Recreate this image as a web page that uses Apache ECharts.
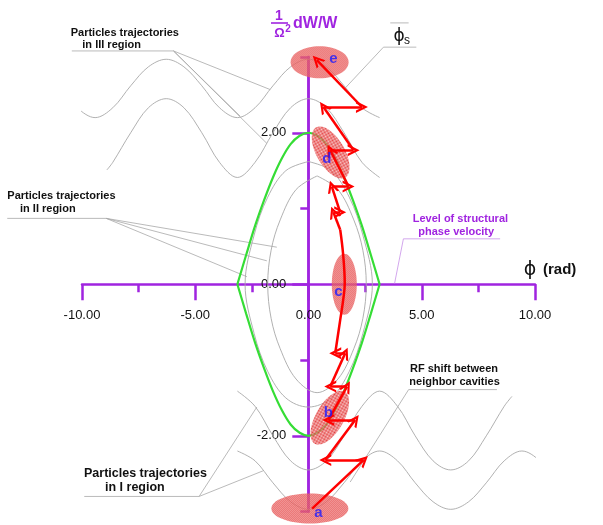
<!DOCTYPE html>
<html>
<head>
<meta charset="utf-8">
<script src="https://cdn.jsdelivr.net/npm/echarts@6/dist/echarts.min.js"></script>
<style>
  html, body { margin: 0; padding: 0; background: #ffffff; }
  #chart { width: 603px; height: 525px; }
</style>
</head>
<body>
<div id="chart"></div>
<script>
// ---- axis ticks ----
const xMajorTicks = [-10, -5, 0, 5, 10];
const yLabelTicks = [-2, 0, 2];
const yShortTicks = [-3, -1, 1, 3];

// ---- separatrix (phase, relative energy) ----
const sepPhase = [-3.14, -2.75, -2.36, -1.96, -1.57, -1.18, -0.79, -0.39, 0, 0.39, 0.79, 1.18, 1.57, 1.96, 2.36, 2.75, 3.14];
const sepUpper = [0, 0.39, 0.77, 1.11, 1.41, 1.66, 1.85, 1.96, 2.0, 1.96, 1.85, 1.66, 1.41, 1.11, 0.77, 0.39, 0];
const sepLower = [0, -0.39, -0.77, -1.11, -1.41, -1.66, -1.85, -1.96, -2.0, -1.96, -1.85, -1.66, -1.41, -1.11, -0.77, -0.39, 0];

// ---- region II: closed trajectories inside the separatrix ----
const orbitOuterPhase = [0, 1.0, 1.8, 2.4, 2.82, 2.4, 1.8, 1.0, 0, -1.0, -1.8, -2.4, -2.8, -2.4, -1.8, -1.0, 0];
const orbitOuterValue = [1.62, 1.5, 1.15, 0.65, 0, -0.65, -1.15, -1.5, -1.62, -1.5, -1.15, -0.65, 0, 0.65, 1.15, 1.5, 1.62];
const orbitInnerPhase = [0.38, 1.3, 2.0, 2.4, 2.55, 2.4, 2.0, 1.3, 0.38, -0.55, -1.25, -1.65, -1.8, -1.65, -1.25, -0.55, 0.38];
const orbitInnerValue = [1.43, 1.25, 0.85, 0.45, 0, -0.45, -0.85, -1.25, -1.43, -1.25, -0.85, -0.45, 0, 0.45, 0.85, 1.25, 1.43];

// ---- region III: trajectories above the separatrix ----
const wave3aPhase = [-13.1, -12.57, -11.78, -11.0, -10.21, -9.42, -8.64, -7.85, -7.07, -6.28, -5.5, -4.71, -3.93, -3.14, -2.36, -1.57, -0.79, 0, 0.79, 1.57, 2.36, 3.14];
const wave3aValue = [2.93, 2.97, 2.87, 2.62, 2.33, 2.2, 2.33, 2.62, 2.87, 2.97, 2.87, 2.62, 2.33, 2.2, 2.33, 2.62, 2.87, 2.97, 2.87, 2.62, 2.33, 2.2];
const wave3bPhase = [-8.9, -8.64, -7.85, -7.07, -6.28, -5.5, -4.71, -3.93, -3.14, -2.36, -1.57, -0.79, 0, 0.79, 1.57, 2.36, 3.14];
const wave3bValue = [1.51, 1.61, 2.0, 2.33, 2.45, 2.33, 2.0, 1.61, 1.41, 1.61, 2.0, 2.33, 2.45, 2.33, 2.0, 1.61, 1.41];

// ---- region I: trajectories below the separatrix ----
const wave1aPhase = [-3.14, -2.36, -1.57, -0.79, 0, 0.79, 1.57, 2.36, 3.14, 3.93, 4.71, 5.5, 6.28, 7.07, 7.85, 8.64, 8.98];
const wave1aValue = [-1.41, -1.61, -2.0, -2.33, -2.45, -2.33, -2.0, -1.61, -1.41, -1.61, -2.0, -2.33, -2.45, -2.33, -2.0, -1.61, -1.48];
const wave1bPhase = [-3.14, -2.36, -1.57, -0.79, 0, 0.79, 1.57, 2.36, 3.14, 3.93, 4.71, 5.5, 6.28, 7.07, 7.85, 8.64, 9.42, 10.21, 11.0, 11.78, 12.57, 13.1];
const wave1bValue = [-2.2, -2.33, -2.62, -2.87, -2.97, -2.87, -2.62, -2.33, -2.2, -2.33, -2.62, -2.87, -2.97, -2.87, -2.62, -2.33, -2.2, -2.33, -2.62, -2.87, -2.97, -2.93];

// ---- particle bunch path: kicks in successive cavities ----
const pathLower = [[0.16, -2.96], [2.43, -2.32], [0.74, -2.32], [2.06, -1.79], [0.88, -1.79], [1.70, -1.35], [0.96, -1.35], [1.62, -0.91], [1.18, -0.91]];
const pathMiddle = [[1.18, -0.91], [1.40, -0.47], [1.53, -0.21], [1.60, 0.01], [1.53, 0.39], [1.40, 0.72]];
const pathUpper = [[1.40, 0.72], [1.10, 0.95], [1.40, 0.95], [1.03, 1.29], [1.77, 1.29], [0.96, 1.77], [1.99, 1.77], [0.66, 2.34], [2.36, 2.34], [0.37, 2.96]];

// ---- bunches a..e ----
const bunchNames = ['a', 'b', 'c', 'd', 'e'];
const bunchCenters = [[0.06, -2.96], [0.94, -1.76], [1.58, 0.0], [0.98, 1.74], [0.49, 2.93]];
const bunchTags = [[0.44, -3.02], [0.88, -1.70], [1.32, -0.10], [0.81, 1.65], [1.10, 2.97]];

// ---- leader lines of the annotations ----
const leaderIII = [[[-10.45, 3.08], [-5.96, 3.08], [-1.69, 2.57]], [[-5.96, 3.08], [-3.02, 2.22]], [[-5.96, 3.08], [-1.84, 1.86]]];
const leaderII = [[[-13.3, 0.87], [-8.93, 0.87], [-1.40, 0.49]], [[-8.93, 0.87], [-1.84, 0.31]], [[-8.93, 0.87], [-2.72, 0.10]]];
const leaderI = [[[-9.90, -2.80], [-4.83, -2.80], [-2.28, -1.62]], [[-4.83, -2.80], [-1.99, -2.46]]];
const leaderRF = [[[8.32, -1.39], [4.42, -1.39], [1.84, -2.61]]];
const leaderPhiS = [[[4.76, 3.13], [3.31, 3.13], [1.62, 2.59]], [[3.61, 3.45], [4.42, 3.45]]];
const leaderLevel = [[[8.46, 0.60], [4.19, 0.60], [3.80, 0.01]]];

// ---------------------------------------------------------------
const PURPLE = '#a024e0';
const GRAY = '#a8a8a8';
const RED = '#ff0000';
const TEXT = '"Liberation Sans", Arial, sans-serif';

// ellipse size/rotation for each bunch (pixels, degrees)
const bunchShape = [
  { rx: 38.5, ry: 15, rot: 0 },
  { rx: 30, ry: 14, rot: 60 },
  { rx: 12.5, ry: 30.5, rot: 0 },
  { rx: 29, ry: 14, rot: -60 },
  { rx: 29, ry: 16, rot: 0 }
];

// checkered red fill of the bunches
const hatch = document.createElement('canvas');
hatch.width = 4; hatch.height = 4;
(function () {
  const g = hatch.getContext('2d');
  g.fillStyle = 'rgba(246,170,170,0.6)';
  g.fillRect(0, 0, 4, 4);
  g.fillStyle = 'rgba(222,40,40,0.85)';
  for (let i = 0; i < 4; i++) for (let j = 0; j < 4; j++) if ((i + j) % 2 === 0) g.fillRect(i, j, 1, 1);
})();

const zip = (xs, ys) => xs.map((x, i) => [x, ys[i]]);
const toSegments = pts => pts.slice(1).map((p, i) => ({ coords: [pts[i], p] }));

const chevron = 'path://M5,0 L10,10 L8,10 L5,4 L2,10 L0,10 Z';

function grayCurve(data) {
  return {
    type: 'line', data, smooth: 0.35, symbol: 'none', clip: false, silent: true,
    lineStyle: { color: GRAY, width: 0.9 }, z: 2
  };
}

const axisLineStyle = { color: PURPLE, width: 2.5 };
const labelStyle = { fontFamily: TEXT, fontSize: 13, color: '#111' };
const hiddenAxis = (gridIndex, min, max) => ({ type: 'value', gridIndex, min, max, show: false });

const leaderData = []
  .concat(leaderIII, leaderII, leaderI, leaderRF, leaderPhiS)
  .map(c => ({ coords: c }))
  .concat(leaderLevel.map(c => ({ coords: c, lineStyle: { color: '#c890e8' } })));

const option = {
  animation: false,
  backgroundColor: '#ffffff',
  grid: [
    // plotting area: phase -10..10, energy -3..3
    { left: 82, right: 68, top: 57, bottom: 13.4, outerBoundsMode: 'none', containLabel: false },
    // carrier of the phase axis, its lower edge lies on energy = 0
    { left: 82, right: 68, top: 57, bottom: 240.7, outerBoundsMode: 'none', containLabel: false },
    // carrier of the energy axis, its left edge lies on phase = 0
    { left: 308.3, width: 100, top: 57, bottom: 13.4, outerBoundsMode: 'none', containLabel: false }
  ],
  xAxis: [
    hiddenAxis(0, -10, 10),
    {
      type: 'value', gridIndex: 1, min: -10, max: 10, interval: 5, position: 'bottom',
      axisLine: { onZero: false, lineStyle: axisLineStyle },
      axisTick: { length: 16, lineStyle: axisLineStyle },
      minorTick: { show: true, splitNumber: 2, length: 8, lineStyle: axisLineStyle },
      splitLine: { show: false }, minorSplitLine: { show: false },
      axisLabel: Object.assign({ margin: 25, formatter: v => v.toFixed(2) }, labelStyle)
    },
    hiddenAxis(2, 0, 1)
  ],
  yAxis: [
    hiddenAxis(0, -3, 3),
    hiddenAxis(1, 0, 1),
    {
      type: 'value', gridIndex: 2, min: -3, max: 3, interval: 1, position: 'left',
      axisLine: { onZero: false, lineStyle: axisLineStyle },
      axisTick: { length: 16, customValues: yLabelTicks, lineStyle: axisLineStyle },
      splitLine: { show: false },
      axisLabel: Object.assign({ margin: 22, formatter: v => v.toFixed(2), customValues: yLabelTicks }, labelStyle)
    },
    {
      type: 'value', gridIndex: 2, min: -3, max: 3, interval: 1, position: 'left',
      axisLine: { onZero: false, lineStyle: axisLineStyle },
      axisTick: { length: 8, customValues: yShortTicks, lineStyle: axisLineStyle },
      splitLine: { show: false },
      axisLabel: { show: false }
    }
  ],
  graphic: [
    // vertical axis title: (1/Ω²) dW/W
    { type: 'text', x: 279, y: 16, style: { text: '1', font: 'bold 14px ' + TEXT, fill: PURPLE, align: 'center', verticalAlign: 'middle' } },
    { type: 'line', shape: { x1: 271, y1: 23, x2: 288, y2: 23 }, style: { stroke: PURPLE, lineWidth: 1.6 } },
    { type: 'text', x: 279.5, y: 33, style: { text: 'Ω', font: 'bold 13px ' + TEXT, fill: PURPLE, align: 'center', verticalAlign: 'middle' } },
    { type: 'text', x: 288, y: 29, style: { text: '2', font: 'bold 10px ' + TEXT, fill: PURPLE, align: 'center', verticalAlign: 'middle' } },
    { type: 'text', x: 293, y: 24, style: { text: 'dW/W', font: 'bold 16px ' + TEXT, fill: PURPLE, align: 'left', verticalAlign: 'middle' } },
    // horizontal axis title
    { type: 'text', x: 530, y: 270, style: { text: 'ϕ', font: '19px "DejaVu Sans"', fill: '#111', align: 'center', verticalAlign: 'middle' } },
    { type: 'text', x: 543, y: 270, style: { text: '(rad)', font: 'bold 15px ' + TEXT, fill: '#111', align: 'left', verticalAlign: 'middle' } },
    // synchronous phase marker
    { type: 'text', x: 399, y: 37, style: { text: 'ϕ', font: '17px "DejaVu Sans"', fill: '#111', align: 'center', verticalAlign: 'middle' } },
    { type: 'text', x: 407, y: 40.5, style: { text: 's', font: '12px ' + TEXT, fill: '#111', align: 'center', verticalAlign: 'middle' } },
    // annotations
    { type: 'text', x: 70.7, y: 33.3, style: { text: 'Particles trajectories', font: 'bold 11px ' + TEXT, fill: '#111', verticalAlign: 'middle' } },
    { type: 'text', x: 82.3, y: 45, style: { text: 'in III region', font: 'bold 11px ' + TEXT, fill: '#111', verticalAlign: 'middle' } },
    { type: 'text', x: 7.3, y: 196, style: { text: 'Particles trajectories', font: 'bold 11px ' + TEXT, fill: '#111', verticalAlign: 'middle' } },
    { type: 'text', x: 20, y: 209.3, style: { text: 'in II region', font: 'bold 11px ' + TEXT, fill: '#111', verticalAlign: 'middle' } },
    { type: 'text', x: 84, y: 473.3, style: { text: 'Particles trajectories', font: 'bold 12.5px ' + TEXT, fill: '#111', verticalAlign: 'middle' } },
    { type: 'text', x: 105, y: 487.3, style: { text: 'in I region', font: 'bold 12.5px ' + TEXT, fill: '#111', verticalAlign: 'middle' } },
    { type: 'text', x: 412.7, y: 219.3, style: { text: 'Level of structural', font: 'bold 11px ' + TEXT, fill: PURPLE, verticalAlign: 'middle' } },
    { type: 'text', x: 418.3, y: 231.7, style: { text: 'phase velocity', font: 'bold 11px ' + TEXT, fill: PURPLE, verticalAlign: 'middle' } },
    { type: 'text', x: 410, y: 369.3, style: { text: 'RF shift between', font: 'bold 11px ' + TEXT, fill: '#111', verticalAlign: 'middle' } },
    { type: 'text', x: 409.3, y: 381.7, style: { text: 'neighbor cavities', font: 'bold 11px ' + TEXT, fill: '#111', verticalAlign: 'middle' } }
  ],
  series: [
    grayCurve(zip(wave3aPhase, wave3aValue)),
    grayCurve(zip(wave3bPhase, wave3bValue)),
    grayCurve(zip(wave1aPhase, wave1aValue)),
    grayCurve(zip(wave1bPhase, wave1bValue)),
    grayCurve(zip(orbitOuterPhase, orbitOuterValue)),
    grayCurve(zip(orbitInnerPhase, orbitInnerValue)),
    {
      type: 'line', data: zip(sepPhase, sepUpper), smooth: 0.3, symbol: 'none', clip: false, silent: true,
      lineStyle: { color: '#35dd35', width: 2.2 }, z: 3
    },
    {
      type: 'line', data: zip(sepPhase, sepLower), smooth: 0.3, symbol: 'none', clip: false, silent: true,
      lineStyle: { color: '#35dd35', width: 2.2 }, z: 3
    },
    {
      type: 'custom', data: bunchCenters, clip: false, silent: true, z: 4,
      renderItem: (params, api) => {
        const p = api.coord([api.value(0), api.value(1)]);
        const s = bunchShape[params.dataIndex];
        return {
          type: 'ellipse', x: p[0], y: p[1], rotation: s.rot * Math.PI / 180,
          shape: { cx: 0, cy: 0, rx: s.rx, ry: s.ry },
          style: { fill: { image: hatch, repeat: 'repeat' }, stroke: null }
        };
      }
    },
    {
      type: 'line', data: pathMiddle, smooth: 0.4, symbol: 'none', clip: false, silent: true,
      lineStyle: { color: RED, width: 2.5 }, z: 5
    },
    {
      type: 'lines', coordinateSystem: 'cartesian2d', clip: false, silent: true, z: 5,
      symbol: ['none', chevron], symbolSize: [11, 12],
      lineStyle: { color: RED, width: 2.5, opacity: 1, curveness: 0 },
      itemStyle: { color: RED },
      data: toSegments(pathLower).concat(toSegments(pathUpper))
    },
    {
      type: 'lines', coordinateSystem: 'cartesian2d', polyline: true, clip: false, silent: true, z: 3,
      lineStyle: { color: GRAY, width: 0.8, opacity: 1 },
      data: leaderData
    },
    {
      type: 'scatter', silent: true, clip: false, z: 6, symbolSize: 1, itemStyle: { color: 'rgba(0,0,0,0)' },
      data: bunchTags.map((p, i) => ({ value: p, name: bunchNames[i] })),
      label: { show: true, position: 'inside', formatter: '{b}', color: '#1a1aff', fontWeight: 'bold', fontSize: 15, fontFamily: TEXT }
    }
  ]
};

const chart = echarts.init(document.getElementById('chart'), null, { renderer: 'canvas' });
chart.setOption(option);
</script>
</body>
</html>
